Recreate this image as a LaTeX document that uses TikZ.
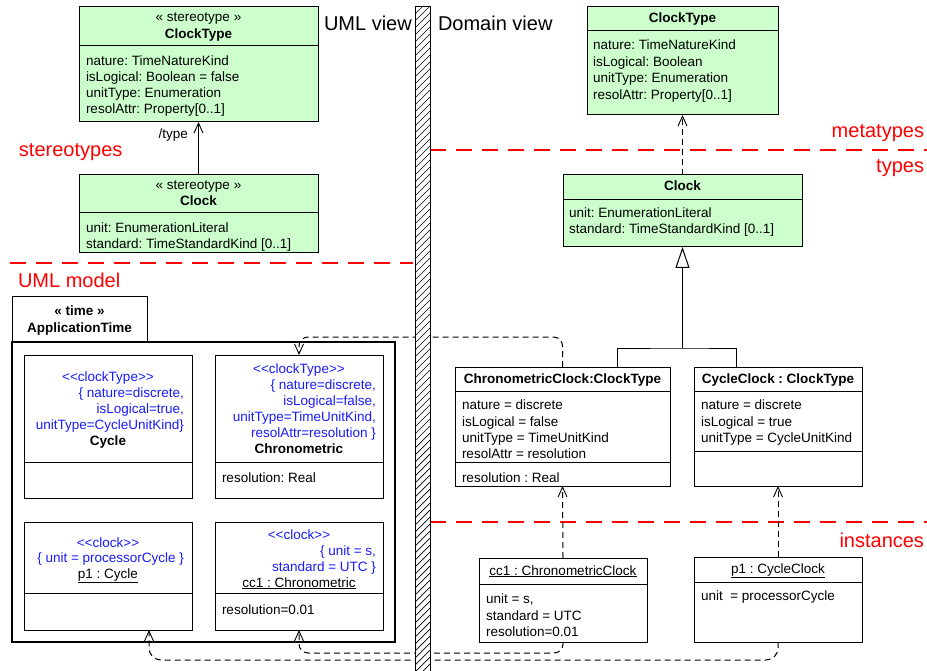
\documentclass[tikz,border=0pt]{standalone}
\usepackage{fontspec}
\setmainfont{Liberation Sans}
\usetikzlibrary{arrows.meta}
\definecolor{boxgreen}{HTML}{CCFFCC}
\definecolor{umlblue}{HTML}{1A1AFF}
\definecolor{lblred}{HTML}{FF0000}
\newcommand\umlopen{<\kern0pt<}
\newcommand\umlclose{>\kern0pt>}
\frenchspacing
\begin{document}
\begin{tikzpicture}[x=1pt,y=-1pt,
  box/.style={draw, line width=1pt, anchor=north west, inner sep=0pt, outer sep=0pt},
  gbox/.style={box, fill=boxgreen},
  txt/.style={font=\fontsize{13.5}{16}\selectfont, inner sep=0pt, outer sep=0pt},
  bt/.style={txt, font=\fontsize{13.5}{16}\selectfont\bfseries},
  bl/.style={txt, text=umlblue},
  lbl/.style={font=\fontsize{20}{24}\selectfont, text=lblred, inner sep=0pt, outer sep=0pt},
  view/.style={font=\fontsize{20}{24}\selectfont, inner sep=0pt, outer sep=0pt},
  divider/.style={line width=1pt},
  reddash/.style={draw=lblred, line width=1.2pt, dash pattern=on 16pt off 10pt},
  assoc/.style={line width=0.9pt, -{Straight Barb[length=10pt,width=9pt,line width=0.9pt]}},
  dep/.style={line width=1pt, dash pattern=on 6pt off 4pt, -{Straight Barb[length=10pt,width=9pt,line width=0.9pt]}},
  gen/.style={line width=1pt, -{Triangle[open, fill=white, length=21pt, width=14pt, line width=1pt]}}
]
\useasboundingbox (0,0) rectangle (927,671);

% ---------- UML view : stereotypes ----------
\node[gbox, minimum width=239pt, minimum height=115pt] (ctL) at (79,7) {};
\draw[divider] ([yshift=-39pt]ctL.north west) -- ([yshift=-39pt]ctL.north east);
\node[txt, anchor=base] (ctLs) at (198.5,22) {« stereotype »};
\node[bt, anchor=base] (ctLn) at (198.5,39) {ClockType};
\node[txt, anchor=base west] (ctLa1) at (86,66) {nature: TimeNatureKind};
\node[txt, anchor=base west] (ctLa2) at (86,82) {isLogical: Boolean = false};
\node[txt, anchor=base west] (ctLa3) at (86,98) {unitType: Enumeration};
\node[txt, anchor=base west] (ctLa4) at (86,114) {resolAttr: Property[0..1]};

\node[gbox, minimum width=239pt, minimum height=78pt] (clL) at (79,175) {};
\draw[divider] ([yshift=-38pt]clL.north west) -- ([yshift=-38pt]clL.north east);
\node[txt, anchor=base] (clLs) at (198.5,190) {« stereotype »};
\node[bt, anchor=base] (clLn) at (198.5,206) {Clock};
\node[txt, anchor=base west] (clLa1) at (86,233) {unit: EnumerationLiteral};
\node[txt, anchor=base west] (clLa2) at (86,249) {standard: TimeStandardKind [0..1]};

\draw[assoc] (clL.north) -- (ctL.south);
\node[txt, anchor=base east] (typelbl) at (188,139) {/type};

\node[view, anchor=base west] (umlview) at (324,31) {UML view};
\node[view, anchor=base west] (domview) at (438,31) {Domain view};
\node[lbl, anchor=base west] (lstereo) at (19,157) {stereotypes};
\node[lbl, anchor=base west] (lmodel) at (18,288) {UML model};
\node[lbl, anchor=base east] (lmeta) at (924,138) {metatypes};
\node[lbl, anchor=base east] (ltypes) at (924,173) {types};
\node[lbl, anchor=base east] (linst) at (924,547) {instances};

\draw[reddash] (10,263) -- (413,263);
\draw[reddash] (430,150) -- (927,150);
\draw[reddash] (430,522) -- (927,522);

% ---------- UML model package ----------
\node[box, minimum width=135pt, minimum height=45pt] (ptab) at (12,297) {};
\node[bt, anchor=base] (ptab1) at (79.5,316) {« time »};
\node[bt, anchor=base] (ptab2) at (79.5,332) {ApplicationTime};
\node[box, line width=1.8pt, minimum width=383pt, minimum height=300pt] (pbody) at (12,342) {};

\node[box, minimum width=168pt, minimum height=143pt] (cyin) at (24,355) {};
\draw[divider] ([yshift=-107pt]cyin.north west) -- ([yshift=-107pt]cyin.north east);
\node[bl, anchor=base] (cyin1) at (108,381) {\umlopen clockType\umlclose};
\node[bl, anchor=base east] (cyin2) at (184,397) {\{ nature=discrete,};
\node[bl, anchor=base east] (cyin3) at (184,413) {isLogical=true,};
\node[bl, anchor=base east] (cyin4) at (184,429) {unitType=CycleUnitKind\}};
\node[bt, anchor=base] (cyin5) at (108,445) {Cycle};

\node[box, minimum width=168pt, minimum height=143pt] (chin) at (215,355) {};
\draw[divider] ([yshift=-107pt]chin.north west) -- ([yshift=-107pt]chin.north east);
\node[bl, anchor=base] (chin1) at (299,373) {\umlopen clockType\umlclose};
\node[bl, anchor=base east] (chin2) at (376,389) {\{ nature=discrete,};
\node[bl, anchor=base east] (chin3) at (376,405) {isLogical=false,};
\node[bl, anchor=base east] (chin4) at (376,421) {unitType=TimeUnitKind,};
\node[bl, anchor=base east] (chin5) at (376,437) {resolAttr=resolution \}};
\node[bt, anchor=base] (chin6) at (299,453) {Chronometric};
\node[txt, anchor=base west] (chin7) at (222,482) {resolution: Real};

\node[box, minimum width=168pt, minimum height=108pt] (p1in) at (24,522) {};
\draw[divider] ([yshift=-71pt]p1in.north west) -- ([yshift=-71pt]p1in.north east);
\node[bl, anchor=base] (p1in1) at (108,547) {\umlopen clock\umlclose};
\node[bl, anchor=base east] (p1in2) at (184,562) {\{ unit = processorCycle \}};
\node[txt, anchor=base] (p1in3) at (108,578) {\underline{p1 : Cycle}};

\node[box, minimum width=168pt, minimum height=108pt] (ccin) at (215,522) {};
\draw[divider] ([yshift=-71pt]ccin.north west) -- ([yshift=-71pt]ccin.north east);
\node[bl, anchor=base] (ccin1) at (299,539) {\umlopen clock\umlclose};
\node[bl, anchor=base east] (ccin2) at (376,555) {\{ unit = s,};
\node[bl, anchor=base east] (ccin3) at (376,571) {standard = UTC \}};
\node[txt, anchor=base] (ccin4) at (299,587) {\underline{cc1 : Chronometric}};
\node[txt, anchor=base west] (ccin5) at (222,614) {resolution=0.01};

% ---------- Domain view ----------
\node[gbox, minimum width=191pt, minimum height=108pt] (ctR) at (587,7) {};
\draw[divider] ([yshift=-24pt]ctR.north west) -- ([yshift=-24pt]ctR.north east);
\node[bt, anchor=base] (ctRn) at (682.5,23) {ClockType};
\node[txt, anchor=base west] (ctRa1) at (593,50) {nature: TimeNatureKind};
\node[txt, anchor=base west] (ctRa2) at (593,67) {isLogical: Boolean};
\node[txt, anchor=base west] (ctRa3) at (593,83) {unitType: Enumeration};
\node[txt, anchor=base west] (ctRa4) at (593,100) {resolAttr: Property[0..1]};

\node[gbox, minimum width=239pt, minimum height=72pt] (clR) at (563,175) {};
\draw[divider] ([yshift=-25pt]clR.north west) -- ([yshift=-25pt]clR.north east);
\node[bt, anchor=base] (clRn) at (682.5,191) {Clock};
\node[txt, anchor=base west] (clRa1) at (569,218) {unit: EnumerationLiteral};
\node[txt, anchor=base west] (clRa2) at (569,234) {standard: TimeStandardKind [0..1]};

\draw[dep] (clR.north) -- (ctR.south);

\node[box, minimum width=215pt, minimum height=119pt] (chc) at (455,367) {};
\draw[divider] ([yshift=-24pt]chc.north west) -- ([yshift=-24pt]chc.north east);
\draw[divider] ([yshift=-95pt]chc.north west) -- ([yshift=-95pt]chc.north east);
\node[bt, anchor=base] (chcn) at (562.5,383) {ChronometricClock:ClockType};
\node[txt, anchor=base west] (chca1) at (462,409) {nature = discrete};
\node[txt, anchor=base west] (chca2) at (462,426) {isLogical = false};
\node[txt, anchor=base west] (chca3) at (462,442) {unitType = TimeUnitKind};
\node[txt, anchor=base west] (chca4) at (462,458) {resolAttr = resolution};
\node[txt, anchor=base west] (chca5) at (462,482) {resolution : Real};

\node[box, minimum width=168pt, minimum height=119pt] (cyc) at (694,367) {};
\draw[divider] ([yshift=-24pt]cyc.north west) -- ([yshift=-24pt]cyc.north east);
\draw[divider] ([yshift=-84pt]cyc.north west) -- ([yshift=-84pt]cyc.north east);
\node[bt, anchor=base] (cycn) at (778,383) {CycleClock : ClockType};
\node[txt, anchor=base west] (cyca1) at (701,409) {nature = discrete};
\node[txt, anchor=base west] (cyca2) at (701,426) {isLogical = true};
\node[txt, anchor=base west] (cyca3) at (701,442) {unitType = CycleUnitKind};

\coordinate (gj) at (682.5,348);
\draw[line width=1pt] ([xshift=54.5pt]chc.north) |- (gj) -| ([xshift=-42pt]cyc.north);
\draw[gen] (gj) -- (clR.south);

\node[box, minimum width=168pt, minimum height=84pt] (cci) at (479,558) {};
\draw[divider] ([yshift=-26pt]cci.north west) -- ([yshift=-26pt]cci.north east);
\node[txt, anchor=base] (cciN) at (563,575) {\underline{cc1 : ChronometricClock}};
\node[txt, anchor=base west] (ccia1) at (486,603) {unit = s,};
\node[txt, anchor=base west] (ccia2) at (486,620) {standard = UTC};
\node[txt, anchor=base west] (ccia3) at (486,636) {resolution=0.01};

\node[box, minimum width=168pt, minimum height=85pt] (p1i) at (694,557) {};
\draw[divider] ([yshift=-25pt]p1i.north west) -- ([yshift=-25pt]p1i.north east);
\node[txt, anchor=base] (p1iN) at (778,573) {\underline{p1 : CycleClock}};
\node[txt, anchor=base west] (p1ia1) at (701,600) {unit~ = processorCycle};

\draw[dep] (cci.north) -- (chc.south);
\draw[dep] (p1i.north) -- (cyc.south);

% ---------- links between the views ----------
\draw[dep, rounded corners=9pt] (chc.north) -- ++(0,-30) -| (chin.north);
\draw[dep, rounded corners=9pt] (cci.south) -- ++(0,11) -| (ccin.south);
\draw[dep, rounded corners=12pt] (p1i.south) -- ++(0,18) -| ([xshift=41pt]p1in.south);

% ---------- hatched separator ----------
\node[box, fill=white, minimum width=15pt, minimum height=664pt] (bar) at (415,7) {};
\begin{scope}
  \clip (bar.south west) rectangle (bar.north east);
  \foreach \k [evaluate=\k as \yy using 7+7*\k] in {0,...,98}
    \draw[line width=0.7pt] (415,\yy) -- (430,\yy-15);
\end{scope}
\draw[line width=1pt] (bar.south west) rectangle (bar.north east);
\end{tikzpicture}
\end{document}
